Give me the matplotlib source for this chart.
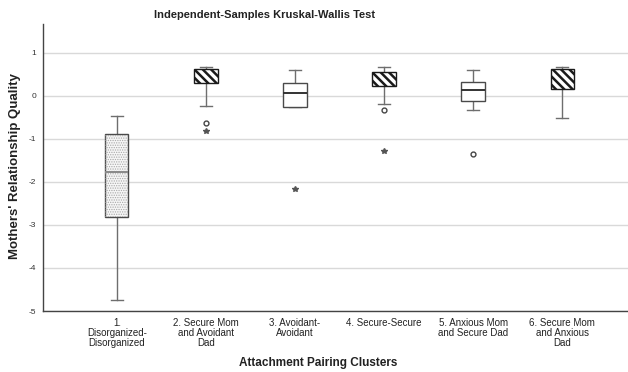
import matplotlib
matplotlib.use("Agg")
import matplotlib.pyplot as plt
import numpy as np

plt.rcParams['font.family'] = ['Liberation Sans', 'DejaVu Sans']
plt.rcParams['axes.unicode_minus'] = False
plt.rcParams['hatch.linewidth'] = 1.8

# cluster labels and five-number summaries (Mothers' relationship quality)
clusters = ["1.\nDisorganized-\nDisorganized",
            "2. Secure Mom\nand Avoidant\nDad",
            "3. Avoidant-\nAvoidant",
            "4. Secure-Secure",
            "5. Anxious Mom\nand Secure Dad",
            "6. Secure Mom\nand Anxious\nDad"]
whislo = [-4.74, -0.23, -0.25, -0.20, -0.34, -0.51]
q1 = [-2.81, 0.29, -0.25, 0.24, -0.12, 0.16]
med = [-1.78, 0.47, 0.06, 0.42, 0.14, 0.50]
q3 = [-0.88, 0.63, 0.31, 0.56, 0.33, 0.63]
whishi = [-0.46, 0.67, 0.59, 0.67, 0.59, 0.67]
# outliers (circles) and extremes (stars), one list per cluster
outliers = [[], [-0.62], [], [-0.33], [-1.36], []]
extremes = [[], [-0.81], [-2.17], [-1.27], [], []]

fills = ["dots", "stripes", "plain", "stripes", "plain", "stripes"]

fig = plt.figure(figsize=(6.28, 3.72), dpi=100)
ax = fig.add_axes([43 / 628, 1 - 311 / 372, 585 / 628, 287 / 372])

positions = np.arange(1, len(clusters) + 1)
stats = []
for i in range(len(clusters)):
    stats.append(dict(whislo=whislo[i], q1=q1[i], med=med[i], q3=q3[i],
                      whishi=whishi[i], fliers=[]))

edge = '#4a4a4a'
bp = ax.bxp(stats, positions=positions, widths=0.26, patch_artist=True,
            showfliers=False,
            boxprops=dict(edgecolor=edge, linewidth=1.0, facecolor='white'),
            whiskerprops=dict(color='#6e6e6e', linewidth=1.0),
            capprops=dict(color='#6e6e6e', linewidth=1.0),
            medianprops=dict(color='#333333', linewidth=1.4),
            capwidths=0.13)

for i, (box, kind, mline) in enumerate(zip(bp['boxes'], fills, bp['medians'])):
    box.set_zorder(3)
    if kind == "stripes":
        box.set_hatch('\\\\\\\\')
        box.set_edgecolor('#1a1a1a')
        mline.set_zorder(2)
    elif kind == "dots":
        # fine grey dot texture with a thin hatch line
        box.set_facecolor('#f6f6f6')
        box.set_edgecolor(edge)
        x0 = box.get_path().vertices[:, 0].min()
        with plt.rc_context({'hatch.linewidth': 0.6}):
            dots = plt.Rectangle((x0, q1[i]), 0.26, q3[i] - q1[i], fill=False,
                                 hatch='.......', edgecolor='#a8a8a8',
                                 linewidth=0, zorder=3.5)
        if hasattr(dots, 'set_hatch_linewidth'):
            dots.set_hatch_linewidth(0.6)
        ax.add_patch(dots)
        mline.set_color('#8a8a8a')
        mline.set_zorder(4)
    else:
        mline.set_zorder(4)

for pos, outs, exts in zip(positions, outliers, extremes):
    if outs:
        ax.plot([pos] * len(outs), outs, 'o', ms=3.5, mfc='none', mec='#444444',
                mew=1.0, zorder=5)
    if exts:
        ax.plot([pos] * len(exts), exts, '*', ms=4, color='#555555', zorder=5)

ax.set_xlim(0.17, 6.74)
ax.set_ylim(-5, 1.67)
ax.set_yticks(np.arange(-5, 2, 1))
ax.set_yticklabels([str(v) for v in range(-5, 2)])
ax.set_xticks(positions)
ax.set_xticklabels(clusters, fontsize=7, linespacing=1.0)
ax.tick_params(axis='y', length=0, labelsize=6, pad=5, labelcolor='#333333')
ax.tick_params(axis='x', length=0, pad=5, labelcolor='#222222')

ax.yaxis.grid(True, color='#d9d9d9', linewidth=1.0)
ax.set_axisbelow(True)
for side in ['top', 'right']:
    ax.spines[side].set_visible(False)
for side in ['left', 'bottom']:
    ax.spines[side].set_color('#444444')
    ax.spines[side].set_linewidth(1.0)

ax.set_ylabel("Mothers' Relationship Quality", fontsize=9.5, fontweight='bold',
              color='#222222')
ax.yaxis.set_label_coords(-0.037, 0.505)
fig.text(318 / 628, 1 - 363 / 372, "Attachment Pairing Clusters",
         ha='center', va='center', fontsize=8.5, fontweight='bold', color='#222222')
fig.text(265 / 628, 1 - 15 / 372, "Independent-Samples Kruskal-Wallis Test",
         ha='center', va='center', fontsize=8, fontweight='bold', color='#222222')

fig.savefig("out.png", dpi=100)
